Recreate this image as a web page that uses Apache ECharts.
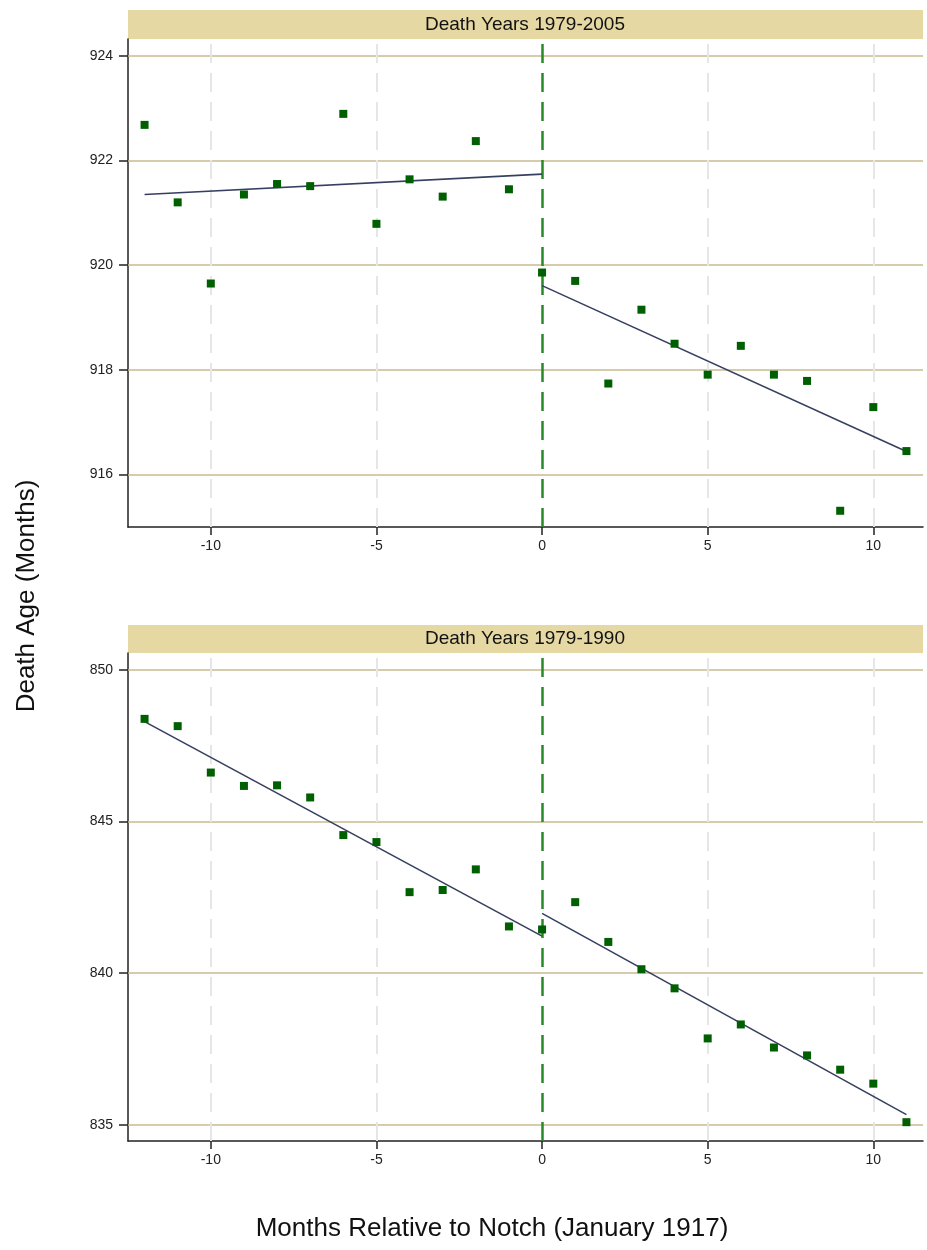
<!DOCTYPE html>
<html>
<head>
<meta charset="utf-8">
<script src="https://cdn.jsdelivr.net/npm/echarts@6/dist/echarts.min.js"></script>
<style>
  html, body { margin: 0; padding: 0; background: #ffffff; }
  #chart { width: 927px; height: 1250px; }
</style>
</head>
<body>
<div id="chart"></div>
<script>
// ---------- data ----------
const months = [-12, -11, -10, -9, -8, -7, -6, -5, -4, -3, -2, -1, 0, 1, 2, 3, 4, 5, 6, 7, 8, 9, 10, 11];
const topAge = [922.68, 921.20, 919.65, 921.35, 921.55, 921.51, 922.89, 920.79, 921.64, 921.31, 922.37, 921.45,
                919.86, 919.70, 917.74, 919.15, 918.50, 917.91, 918.46, 917.91, 917.79, 915.31, 917.29, 916.45];
const bottomAge = [848.38, 848.14, 846.61, 846.17, 846.19, 845.79, 844.55, 844.32, 842.67, 842.74, 843.42, 841.54,
                   841.44, 842.34, 841.03, 840.13, 839.50, 837.85, 838.31, 837.55, 837.29, 836.82, 836.36, 835.09];
// fitted lines: [start x, end x] and [start y, end y]
const fitPreX = [-12, 0];
const fitPostX = [0, 11];
const topFitPreY = [921.35, 921.74];
const topFitPostY = [919.61, 916.44];
const bottomFitPreY = [848.29, 841.22];
const bottomFitPostY = [841.97, 835.34];
// tick labels
const xTicks = [-10, -5, 0, 5, 10];
const xGridTicks = [-10, -5, 5, 10];
const topYTicks = [916, 918, 920, 922, 924];
const bottomYTicks = [835, 840, 845, 850];
const notch = 0;
const panelTitles = ['Death Years 1979-2005', 'Death Years 1979-1990'];
const yName = 'Death Age (Months)';
const xName = 'Months Relative to Notch (January 1917)';

// ---------- styling ----------
const FONT = 'Liberation Sans, Arial, sans-serif';
const tan = '#c9ba8e';
const barColor = '#e5d8a3';
const markerColor = '#005f00';
const fitColor = '#363f60';
const notchColor = '#278a27';

const chart = echarts.init(document.getElementById('chart'), null, { renderer: 'canvas' });

function pairs(xs, ys) { return xs.map((x, i) => [x, ys[i]]); }

function xAxisFor(gridIndex) {
  return {
    type: 'value', gridIndex, min: -12.5, max: 11.5,
    axisLine: { show: true, onZero: false, lineStyle: { color: '#222', width: 1.5 } },
    axisTick: { show: true, inside: false, length: 8, customValues: xTicks, lineStyle: { color: '#222', width: 1.5 } },
    axisLabel: { show: true, customValues: xTicks, margin: 12, fontSize: 14, color: '#222', fontFamily: FONT },
    splitLine: { show: false }
  };
}
function yAxisFor(gridIndex, min, max, ticks) {
  return {
    type: 'value', gridIndex, min, max,
    axisLine: { show: true, onZero: false, lineStyle: { color: '#222', width: 1.5 } },
    axisTick: { show: true, inside: false, length: 9, customValues: ticks, lineStyle: { color: '#222', width: 1.5 } },
    axisLabel: { show: true, customValues: ticks, margin: 15, fontSize: 14, color: '#222', fontFamily: FONT },
    splitLine: { show: false }
  };
}

function panelSeries(idx, ages, preY, postY, yTicks) {
  return [
    {
      // grid lines
      type: 'line', xAxisIndex: idx, yAxisIndex: idx, data: [], silent: true,
      markLine: {
        silent: true, symbol: 'none', z: 1, animation: false,
        label: { show: false },
        data: [
          ...yTicks.map(v => ({ yAxis: v, lineStyle: { color: tan, width: 1.5, type: 'solid' } })),
          ...xGridTicks.map(v => ({ xAxis: v, lineStyle: { color: '#e6e6e6', width: 2, type: [19, 10] } }))
        ]
      }
    },
    {
      // notch line
      type: 'line', xAxisIndex: idx, yAxisIndex: idx, data: [], silent: true,
      markLine: {
        silent: true, symbol: 'none', z: 3, animation: false,
        label: { show: false },
        data: [{ xAxis: notch, lineStyle: { color: notchColor, width: 2.5, type: [19, 10] } }]
      }
    },
    {
      type: 'line', xAxisIndex: idx, yAxisIndex: idx, z: 4, symbol: 'none', animation: false,
      lineStyle: { color: fitColor, width: 1.6 }, data: pairs(fitPreX, preY)
    },
    {
      type: 'line', xAxisIndex: idx, yAxisIndex: idx, z: 4, symbol: 'none', animation: false,
      lineStyle: { color: fitColor, width: 1.6 }, data: pairs(fitPostX, postY)
    },
    {
      type: 'scatter', xAxisIndex: idx, yAxisIndex: idx, z: 5, symbol: 'rect', symbolSize: 8, animation: false,
      itemStyle: { color: markerColor, opacity: 1 }, data: pairs(months, ages)
    }
  ];
}

const option = {
  backgroundColor: '#ffffff',
  animation: false,
  grid: [
    { left: 128, top: 39, width: 795, height: 488 },
    { left: 128, top: 653, width: 795, height: 488 }
  ],
  xAxis: [xAxisFor(0), xAxisFor(1)],
  yAxis: [yAxisFor(0, 915, 924.32, topYTicks), yAxisFor(1, 834.47, 850.55, bottomYTicks)],
  series: [
    ...panelSeries(0, topAge, topFitPreY, topFitPostY, topYTicks),
    ...panelSeries(1, bottomAge, bottomFitPreY, bottomFitPostY, bottomYTicks)
  ],
  graphic: [
    { type: 'rect', left: 128, top: 10, shape: { width: 795, height: 29 }, style: { fill: barColor }, z: 0 },
    { type: 'text', x: 525, y: 24.5, style: { text: panelTitles[0], font: '19px ' + FONT, fill: '#111', align: 'center', verticalAlign: 'middle' }, z: 1 },
    { type: 'rect', left: 128, top: 625, shape: { width: 795, height: 28 }, style: { fill: barColor }, z: 0 },
    { type: 'text', x: 525, y: 639, style: { text: panelTitles[1], font: '19px ' + FONT, fill: '#111', align: 'center', verticalAlign: 'middle' }, z: 1 },
    { type: 'text', x: 27, y: 596, rotation: Math.PI / 2, style: { text: yName, font: '26px ' + FONT, fill: '#111', align: 'center', verticalAlign: 'middle' } },
    { type: 'text', x: 492, y: 1229, style: { text: xName, font: '26px ' + FONT, fill: '#111', align: 'center', verticalAlign: 'middle' } }
  ]
};
chart.setOption(option);
</script>
</body>
</html>
